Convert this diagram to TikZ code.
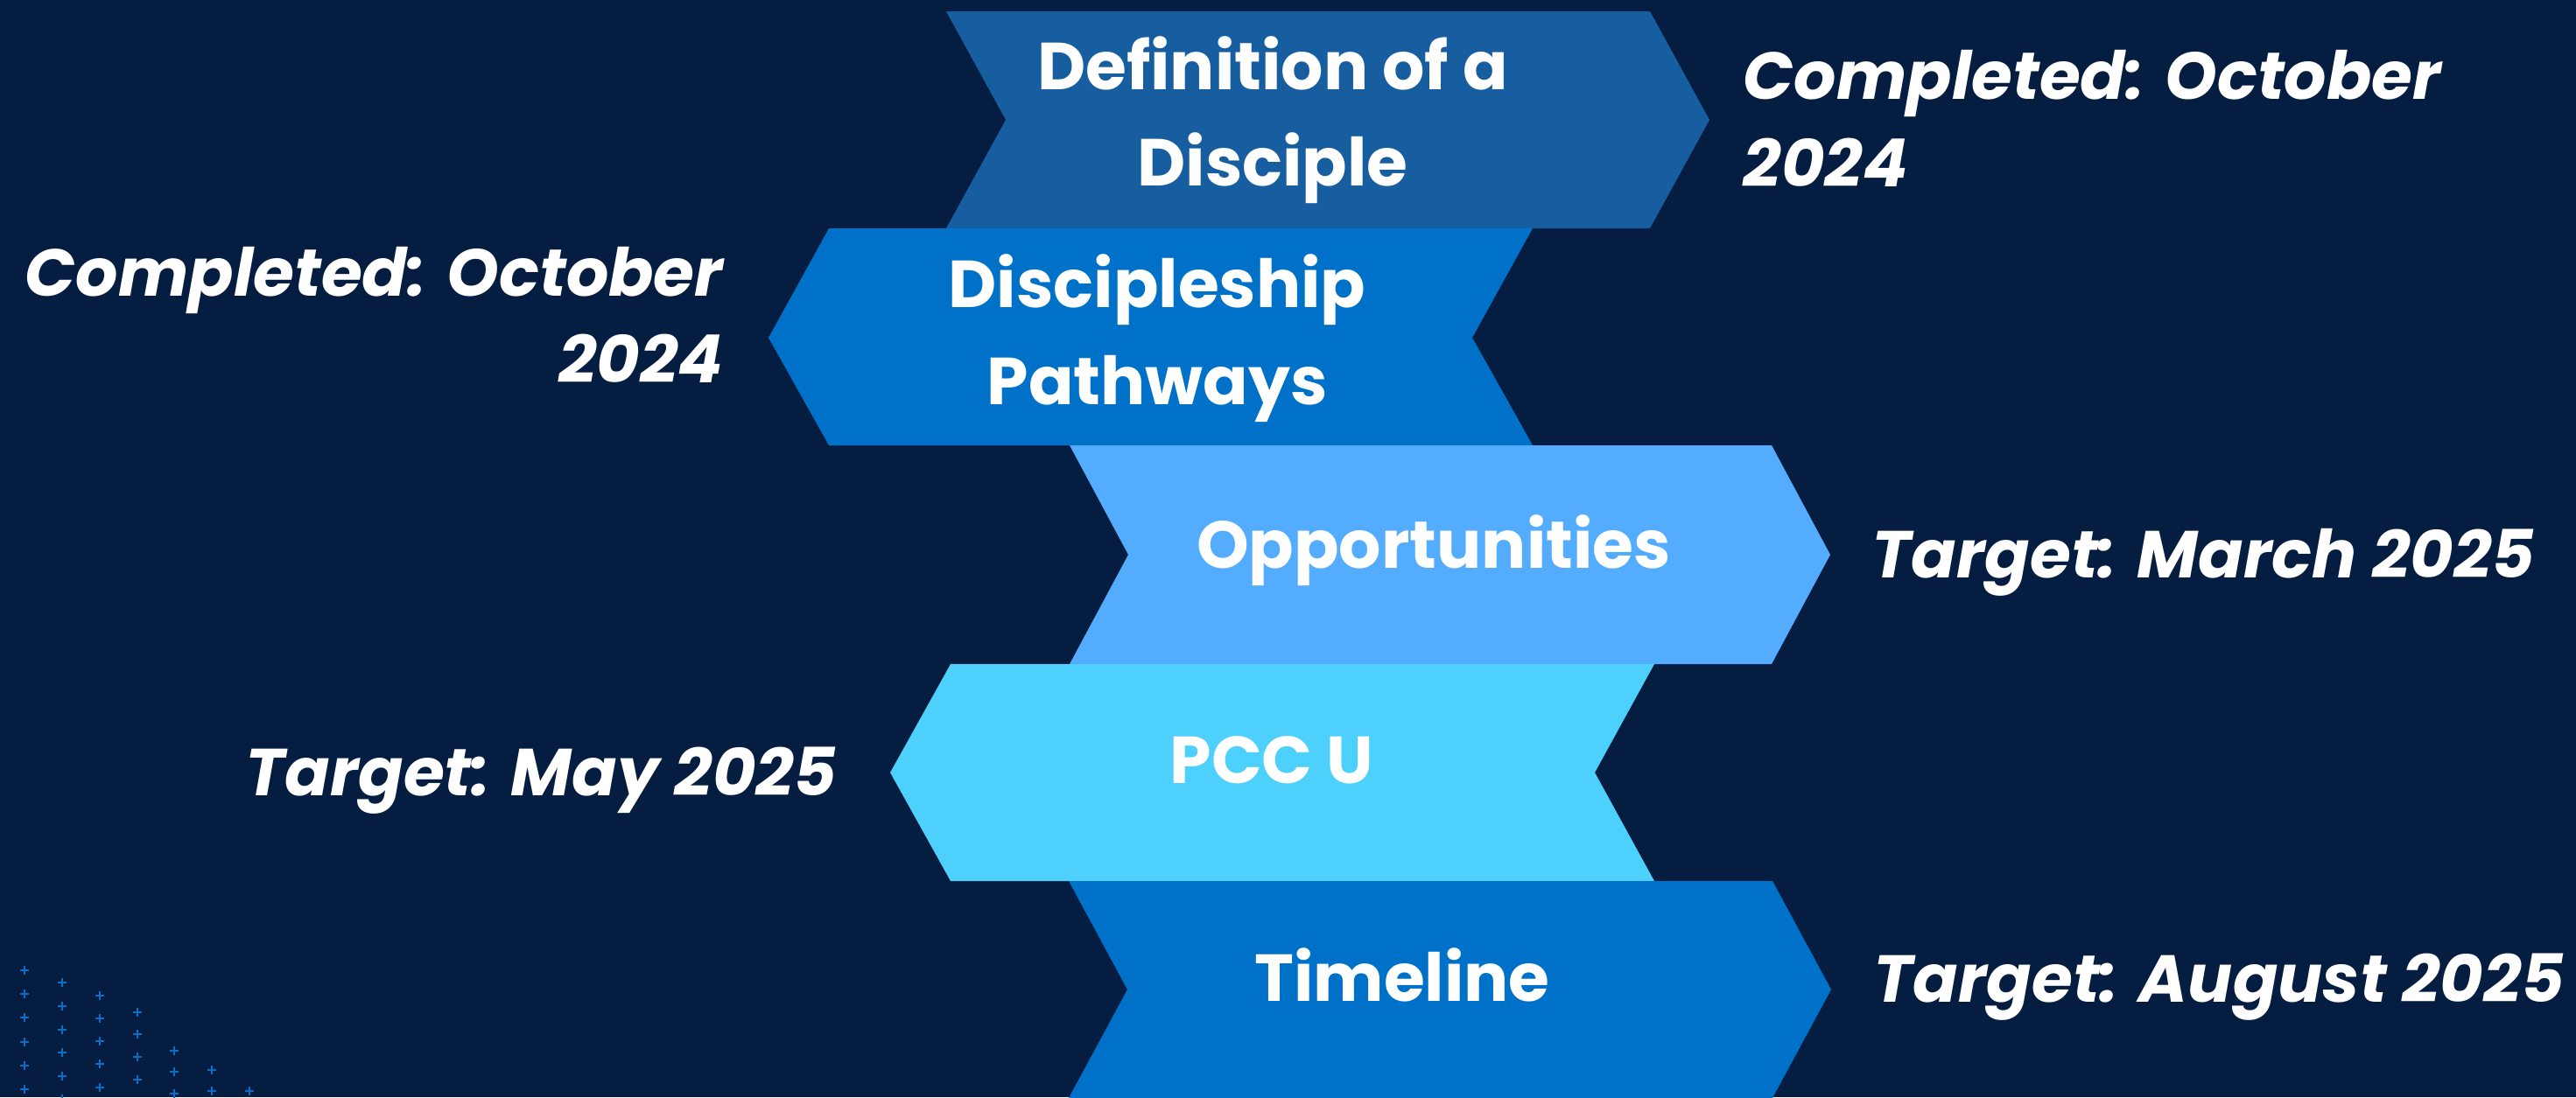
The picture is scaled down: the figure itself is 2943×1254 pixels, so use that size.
\documentclass[tikz,border=0pt]{standalone}
\usepackage{fontspec}
\newfontfamily\popfont{Poppins}
\definecolor{bgc}{HTML}{051D40}
\definecolor{cone}{HTML}{175EA0}
\definecolor{ctwo}{HTML}{0071C8}
\definecolor{cthree}{HTML}{54ACFF}
\definecolor{cfour}{HTML}{4DD0FB}
\definecolor{ccross}{HTML}{0A6EC8}
\begin{document}
\begin{tikzpicture}[x=0.01cm,y=-0.01cm,
  boxtext/.style={inner sep=0pt,text=white,font=\popfont\bfseries\fontsize{21.6}{26}\selectfont},
  labtext/.style={inner sep=0pt,text=white,font=\popfont\bfseries\itshape\fontsize{21.6}{26}\selectfont},
  crossmark/.style={draw=ccross,line width=0.8pt}]
\fill[bgc] (0,0) rectangle (2943,1254);
\useasboundingbox (0,0) rectangle (2943,1254);
% chevrons
\fill[cone] (1081,13) -- (1885,13) -- (1953,137) -- (1885,261) -- (1081,261) -- (1149,137) -- cycle;
\fill[ctwo] (947,261) -- (1751,261) -- (1682,386) -- (1751,509) -- (947,509) -- (878,386) -- cycle;
\fill[cthree] (1222,509) -- (2024,509) -- (2091,634) -- (2024,759) -- (1222,759) -- (1289,634) -- cycle;
\fill[cfour] (1086,759) -- (1890,759) -- (1822,883) -- (1890,1007) -- (1086,1007) -- (1017,883) -- cycle;
\fill[ctwo] (1221,1007) -- (2025,1007) -- (2092,1131) -- (2025,1255) -- (1221,1255) -- (1288,1131) -- cycle;
% box texts
\node[boxtext,anchor=base] (defa) at (1454,102) {Definition of a};
\node[boxtext,anchor=base] (defb) at (1454,212) {Disciple};
\node[boxtext,anchor=base] (disa) at (1322,351) {Discipleship};
\node[boxtext,anchor=base] (disb) at (1322,462) {Pathways};
\node[boxtext,anchor=base] (opp) at (1638,649) {Opportunities};
\node[boxtext,anchor=base] (pcc) at (1453,895) {PCC U};
\node[boxtext,anchor=base] (tim) at (1602,1144) {Timeline};
% labels
\node[labtext,anchor=base west] (laba) at (1991,113) {Completed: October};
\node[labtext,anchor=base west] (labb) at (1991,213) {2024};
\node[labtext,anchor=base east] (labc) at (827,338) {Completed: October};
\node[labtext,anchor=base east] (labd) at (827,437) {2024};
\node[labtext,anchor=base west] (labe) at (2138,660) {Target: March 2025};
\node[labtext,anchor=base east] (labf) at (957,909) {Target: May 2025};
\node[labtext,anchor=base west] (labg) at (2140,1145) {Target: August 2025};
% crosses
\foreach \cx/\ys in {28/{1109,1136,1163,1191,1218,1245},
                     71/{1123,1150,1177,1203,1230,1256},
                     114/{1138,1164,1190,1216,1243},
                     157/{1157,1182,1208,1234},
                     199/{1201,1225,1250},
                     242/{1223,1247},
                     285/{1247}}{
  \foreach \cy in \ys {
    \draw[crossmark] (\cx-5,\cy) -- (\cx+5,\cy) (\cx,\cy-5) -- (\cx,\cy+5);
  }
}
\end{tikzpicture}
\end{document}
